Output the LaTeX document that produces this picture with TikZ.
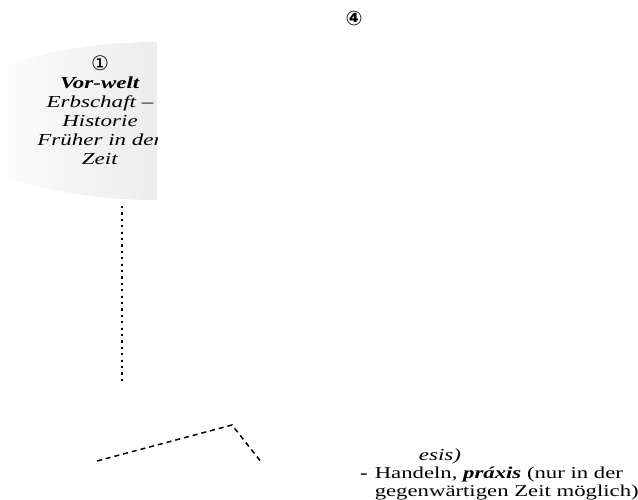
\documentclass[tikz,border=0pt]{standalone}
\usepackage{fontspec}
\setmainfont{Liberation Serif}[FakeStretch=1.37]
\newfontfamily\symfont{DejaVu Sans}
\begin{document}
\begin{tikzpicture}[x=1pt,y=-1pt,
  txt/.style={font=\fontsize{16.8}{18.8}\selectfont, inner sep=0pt, align=center},
  numc/.style={font=\symfont\fontsize{20}{20}\selectfont, inner sep=0pt},
  dotline/.style={line width=2.2pt, dash pattern=on 2.2pt off 4.2pt},
  dashline/.style={line width=1.5pt, dash pattern=on 5pt off 4pt}]
\useasboundingbox (0,0) rectangle (638,500);
% shaded shape (clipped)
\begin{scope}
  \clip (8,0) rectangle (157,500);
  \clip (157,121) ellipse [x radius=211, y radius=79];
  \shade[left color=black!1.5, right color=black!7.5] (8,40) rectangle (157,202);
  \node[numc] (n1) at (100,63) {①};
  \node[txt, anchor=north] (vorwelt) at (100,77)
    {\textbf{\textit{Vor-welt}}\\ \textit{Erbschaft –}\\ \textit{Historie}\\ \textit{Früher in der}\\ \textit{Zeit}};
\end{scope}
\node[numc, font=\symfont\bfseries\fontsize{20}{20}\selectfont] (n4) at (354,18) {④};
% connectors
\coordinate (d1) at (122,206);
\coordinate (d2) at (122,383);
\draw[dotline] (d1) -- (d2);
\coordinate (e1) at (97,461);
\coordinate (e2) at (232,425);
\coordinate (e3) at (262,463);
\draw[dashline] (e1) -- (e2) -- (e3);
% bottom text
\node[txt, anchor=base] (esis) at (440,460) {\textit{esis)}};
\node[txt, anchor=north west, align=left, font=\fontsize{16.6}{18.3}\selectfont] (hand) at (360,465)
  {\begin{tabular}{@{}l@{\hspace{7pt}}l@{}}\textbf{-} & Handeln, \textbf{\textit{práxis}} (nur in der\\ & gegenwärtigen Zeit möglich)\end{tabular}};
\end{tikzpicture}
\end{document}
